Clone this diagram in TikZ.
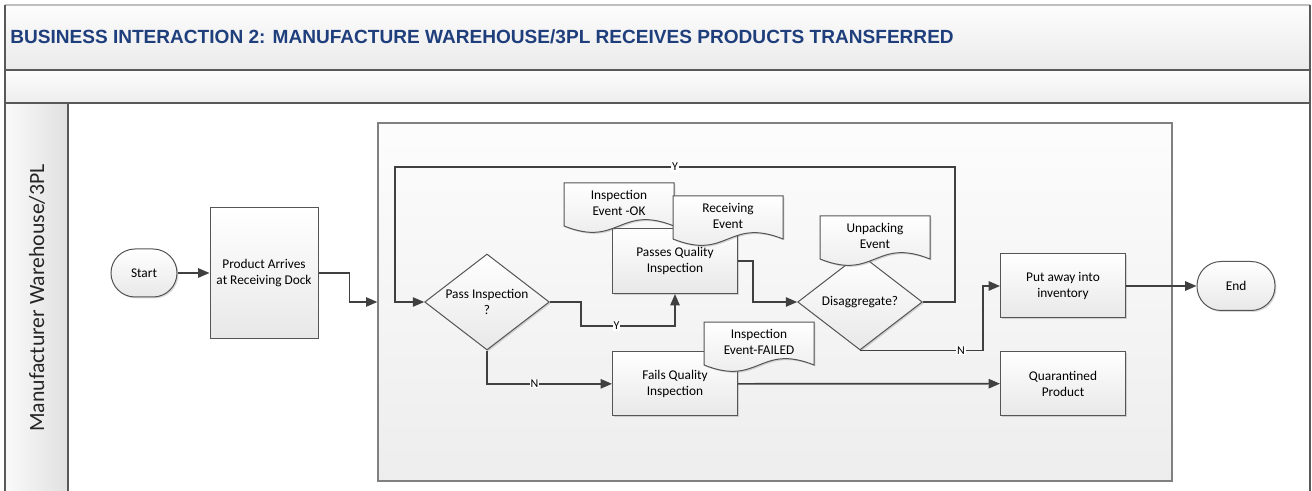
\documentclass[tikz,border=0pt]{standalone}
\usepackage{fontspec}
\setmainfont{Carlito}
\newfontfamily\titlefont{Liberation Sans}
\usepackage{tikz}
\usetikzlibrary{arrows.meta,positioning,shapes.geometric,shadows}
\definecolor{titleblue}{HTML}{1F3E7C}
\definecolor{edgegray}{HTML}{555555}
\definecolor{flowgray}{HTML}{404040}
\tikzset{
  softshadow/.style={drop shadow={shadow xshift=1.1pt, shadow yshift=-1.1pt, opacity=0.25, fill=black!60}},
  frame/.style={draw=black!65, line width=0.9pt},
  box/.style={draw=edgegray, line width=0.75pt, top color=white, bottom color=black!9,
    align=center, font=\fontsize{10}{12.2}\selectfont, minimum width=93.75pt, minimum height=48pt, softshadow},
  term/.style={box, rounded corners=18pt, minimum width=49.5pt, minimum height=36pt},
  decision/.style={box, shape=diamond, shape aspect=1.3, inner sep=0pt, minimum width=93.5pt, minimum height=72pt},
  subproc/.style={draw=black!50, line width=1pt, top color=black!1, bottom color=black!7,
    minimum width=595.5pt, minimum height=268.5pt, softshadow},
  docline/.style={draw=edgegray, line width=0.75pt, top color=white, bottom color=black!9, softshadow},
  doctext/.style={align=center, font=\fontsize{10}{12.2}\selectfont, inner sep=0pt},
  flow/.style={draw=flowgray, line width=1.2pt, -{Triangle[length=8.5pt, width=7pt]}},
  yn/.style={fill=white, inner sep=0.6pt, font=\fontsize{9}{10}\selectfont}
}
% document shape: name, left, top, text
\newcommand{\docnote}[4]{%
  \begin{scope}[shift={(#2,#3)}]
    \path[docline] (0,0) -- (110,0) -- (110,43) .. controls (55,21) and (55,65) .. (0,43) -- cycle;
    \node[doctext] (#1) at (55,20) {#4};
  \end{scope}}

\begin{document}
\begin{tikzpicture}[x=0.75pt, y=-0.75pt]
  \useasboundingbox (0,0) rectangle (1312,491);
  % swimlane frame
  \fill[top color=black!1, bottom color=black!8] (5,5) rectangle (1310,70);
  \fill[top color=black!1, bottom color=black!7] (5,70) rectangle (1310,103);
  \fill[left color=black!2, right color=black!12] (5,103) rectangle (68,495);
  \draw[draw=black!25, line width=0.9pt] (5,5) -- (1310,5);
  \draw[frame] (5,495) -- (5,5) (1310,5) -- (1310,495);
  \draw[frame] (5,70) -- (1310,70) (5,103) -- (1310,103) (68,103) -- (68,495);
  \node[anchor=west, inner sep=0pt, text=titleblue, font=\titlefont\bfseries\fontsize{14.3}{17}\selectfont] (title) at (10,37)
    {BUSINESS INTERACTION 2: MANUFACTURE WAREHOUSE/3PL RECEIVES PRODUCTS TRANSFERRED};
  \node[rotate=90, text=black!85, font=\fontsize{16.3}{19}\selectfont] (lane) at (37,298) {Manufacturer Warehouse/3PL};

  \node[subproc] (sub) at (775,302) {};

  \node[term] (start) at (144,273) {Start};
  \node[box, minimum width=81pt, minimum height=97.5pt] (prod) at (264,273) {Product Arrives\\at Receiving Dock};
  \node[decision] (pass) at (487,302) {Pass Inspection\\?};
  \node[box, minimum height=48.75pt] (passes) at (675,261) {Passes Quality\\Inspection};
  \docnote{okdoc}{564}{183}{Inspection\\Event -OK}
  \docnote{recdoc}{673}{196}{Receiving\\Event}
  \node[decision] (dis) at (860,302) {Disaggregate?};
  \docnote{unpdoc}{820}{216}{Unpacking\\Event}
  \node[box] (fails) [below=43pt of passes] {Fails Quality\\Inspection};
  \docnote{faildoc}{704}{322}{Inspection\\Event-FAILED}
  \node[box] (put) at (1063,286) {Put away into\\inventory};
  \node[box] (quar) [below=24.5pt of put] {Quarantined\\Product};
  \node[term, minimum width=58.5pt, minimum height=36.75pt] (end) at (1236,286) {End};

  \coordinate (loopR) at (955,167);
  \coordinate (loopL) at (395,167);

  \draw[flow] (start) -- (prod);
  \draw[flow] (prod.east) -- ++(31,0) |- (sub.west);
  \draw[flow] (dis.east) -| (loopR) -- node[yn]{Y} (loopL) |- (pass.west);
  \draw[flow] (pass.east) -- ++(31,0) |- node[yn, pos=0.69]{Y} ([yshift=-24pt]passes.south) -- (passes.south);
  \draw[flow] (pass.south) |- node[yn, pos=0.69]{N} (fails.west);
  \draw[flow] (passes.east) -- ++(15,0) |- (dis.west);
  \draw[flow] (dis.south) -- node[yn, pos=0.82]{N} ++(123,0) |- (put.west);
  \draw[flow] (fails) -- (quar);
  \draw[flow] (put) -- (end);
\end{tikzpicture}
\end{document}
